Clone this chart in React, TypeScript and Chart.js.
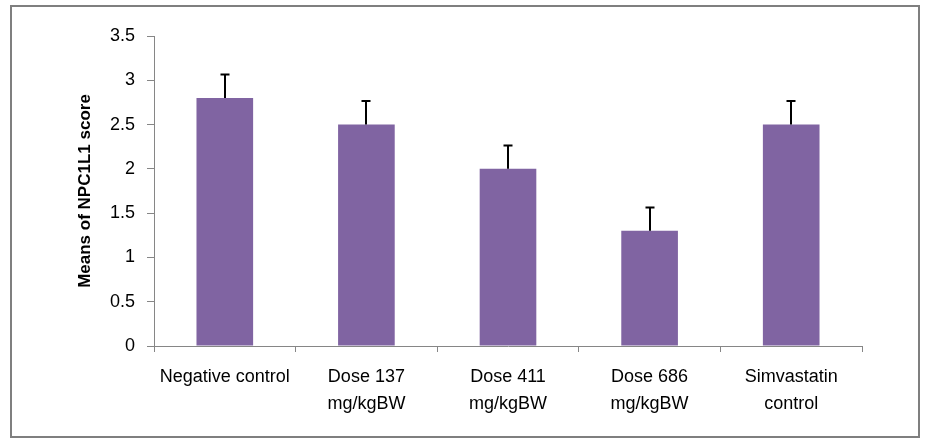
import React, { useEffect, useRef } from "react";
import { Chart, registerables } from "chart.js";

Chart.register(...registerables);

const categories: (string | string[])[] = [
  "Negative control",
  ["Dose 137", "mg/kgBW"],
  ["Dose 411", "mg/kgBW"],
  ["Dose 686", "mg/kgBW"],
  ["Simvastatin", "control"],
];
const means = [2.8, 2.5, 2.0, 1.3, 2.5];
const errors = [0.265, 0.265, 0.265, 0.265, 0.265];
const yTicks = [0, 0.5, 1, 1.5, 2, 2.5, 3, 3.5];
const yTitle = "Means of NPC1L1 score";

const FONT = "'Liberation Sans', Arial, sans-serif";

const errorBarPlugin = {
  id: "errorBars",
  afterDatasetsDraw(chart: any) {
    const ctx = chart.ctx;
    const meta = chart.getDatasetMeta(0);
    const y = chart.scales.y;
    ctx.save();
    ctx.strokeStyle = "#000000";
    ctx.lineWidth = 2;
    meta.data.forEach((bar: any, i: number) => {
      const x = Math.round(bar.x);
      const yTop = y.getPixelForValue(means[i] + errors[i]);
      const yBase = y.getPixelForValue(means[i]);
      ctx.beginPath();
      ctx.moveTo(x, yBase);
      ctx.lineTo(x, yTop);
      ctx.moveTo(x - 4.5, yTop);
      ctx.lineTo(x + 4.5, yTop);
      ctx.stroke();
    });
    ctx.restore();
  },
};

const framePlugin = {
  id: "frame",
  beforeDraw(chart: any) {
    const ctx = chart.ctx;
    ctx.save();
    ctx.fillStyle = "#ffffff";
    ctx.fillRect(0, 0, chart.width, chart.height);
    ctx.strokeStyle = "#7f7f7f";
    ctx.lineWidth = 2;
    ctx.strokeRect(11, 6, 908, 431);
    ctx.restore();
  },
};

export default function App() {
  const ref = useRef<HTMLCanvasElement | null>(null);
  useEffect(() => {
    if (!ref.current) return;
    const chart = new Chart(ref.current, {
      type: "bar",
      data: {
        labels: categories as any,
        datasets: [
          {
            data: means,
            backgroundColor: "#8064A2",
            borderWidth: 0,
            barPercentage: 0.4,
            categoryPercentage: 1,
          },
        ],
      },
      options: {
        animation: false,
        responsive: false,
        devicePixelRatio: 1,
        layout: { padding: { left: 75, right: 64, top: 36, bottom: 0 } },
        plugins: { legend: { display: false }, tooltip: { enabled: false } },
        scales: {
          x: {
            afterFit(scale: any) {
              scale.height = 100;
            },
            grid: {
              drawOnChartArea: false,
              drawTicks: true,
              tickLength: 6,
              color: "#868686",
              offset: true,
            },
            border: { color: "#868686", width: 1 },
            ticks: {
              color: "#000000",
              padding: 12,
              maxRotation: 0,
              autoSkip: false,
              font: { family: FONT, size: 18, lineHeight: 1.5 },
            },
          },
          y: {
            min: 0,
            max: 3.5,
            afterFit(scale: any) {
              scale.width = 79;
            },
            afterBuildTicks(scale: any) {
              scale.ticks = yTicks.map((v) => ({ value: v }));
            },
            grid: {
              drawOnChartArea: false,
              drawTicks: true,
              tickLength: 7,
              color: "#868686",
            },
            border: { color: "#868686", width: 1 },
            ticks: {
              color: "#000000",
              padding: 12,
              font: { family: FONT, size: 18 },
              callback: (v: any) => String(v),
            },
            title: {
              display: true,
              text: yTitle,
              color: "#000000",
              padding: 0,
              font: { family: FONT, size: 17, weight: "bold" },
            },
          },
        },
      },
      plugins: [framePlugin, errorBarPlugin],
    });
    return () => chart.destroy();
  }, []);
  return (
    <div style={{ position: "absolute", left: 0, top: 0, width: 926, height: 446 }}>
      <canvas ref={ref} width={926} height={446} style={{ width: 926, height: 446 }} />
    </div>
  );
}
